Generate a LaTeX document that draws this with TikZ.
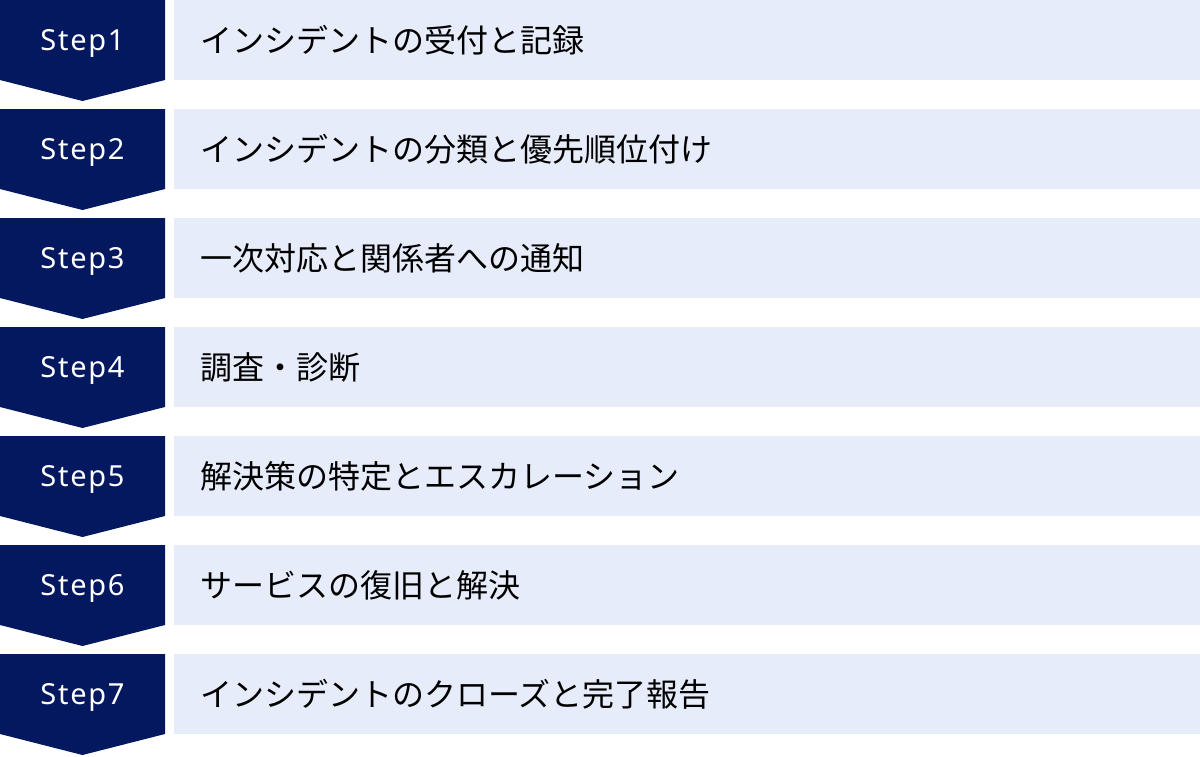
\documentclass[tikz,border=0pt]{standalone}
\usepackage{fontspec}
\usepackage{xcolor}
\setmainfont{Noto Sans CJK JP}
\newfontfamily\stepfont[LetterSpace=6]{Noto Sans}
\definecolor{stepnavy}{RGB}{4,24,96}
\definecolor{taskblue}{RGB}{230,236,250}

\begin{document}
\begin{tikzpicture}[x=1pt, y=-1pt,
    chevron/.style={fill=stepnavy},
    steplabel/.style={text=white, font=\stepfont\fontsize{29}{29}\selectfont, inner sep=0},
    taskbox/.style={fill=taskblue, anchor=north west, minimum height=80,
        text width=974, inner xsep=26, inner ysep=0, align=left,
        font=\fontsize{32}{32}\selectfont}]
\useasboundingbox (0,0) rectangle (1200,756);

        %Step 1
        \fill[chevron] (0,0) -- ++(165,0) -- ++(0,80) -- ++(-82.5,21) -- ++(-82.5,-21) -- cycle;
        \node[steplabel] (step1) at (82.5,43) {Step1};
        \node[taskbox] (task1) at (174,0) {インシデントの受付と記録};

        %Step 2
        \fill[chevron] (0,109) -- ++(165,0) -- ++(0,80) -- ++(-82.5,21) -- ++(-82.5,-21) -- cycle;
        \node[steplabel] (step2) at (82.5,152) {Step2};
        \node[taskbox] (task2) at (174,109) {インシデントの分類と優先順位付け};

        %Step 3
        \fill[chevron] (0,218) -- ++(165,0) -- ++(0,80) -- ++(-82.5,21) -- ++(-82.5,-21) -- cycle;
        \node[steplabel] (step3) at (82.5,261) {Step3};
        \node[taskbox] (task3) at (174,218) {一次対応と関係者への通知};

        %Step 4
        \fill[chevron] (0,327) -- ++(165,0) -- ++(0,80) -- ++(-82.5,21) -- ++(-82.5,-21) -- cycle;
        \node[steplabel] (step4) at (82.5,370) {Step4};
        \node[taskbox] (task4) at (174,327) {調査・診断};

        %Step 5
        \fill[chevron] (0,436) -- ++(165,0) -- ++(0,80) -- ++(-82.5,21) -- ++(-82.5,-21) -- cycle;
        \node[steplabel] (step5) at (82.5,479) {Step5};
        \node[taskbox] (task5) at (174,436) {解決策の特定とエスカレーション};

        %Step 6
        \fill[chevron] (0,545) -- ++(165,0) -- ++(0,80) -- ++(-82.5,21) -- ++(-82.5,-21) -- cycle;
        \node[steplabel] (step6) at (82.5,588) {Step6};
        \node[taskbox] (task6) at (174,545) {サービスの復旧と解決};

        %Step 7
        \fill[chevron] (0,654) -- ++(165,0) -- ++(0,80) -- ++(-82.5,21) -- ++(-82.5,-21) -- cycle;
        \node[steplabel] (step7) at (82.5,697) {Step7};
        \node[taskbox] (task7) at (174,654) {インシデントのクローズと完了報告};

\end{tikzpicture}
\end{document}
